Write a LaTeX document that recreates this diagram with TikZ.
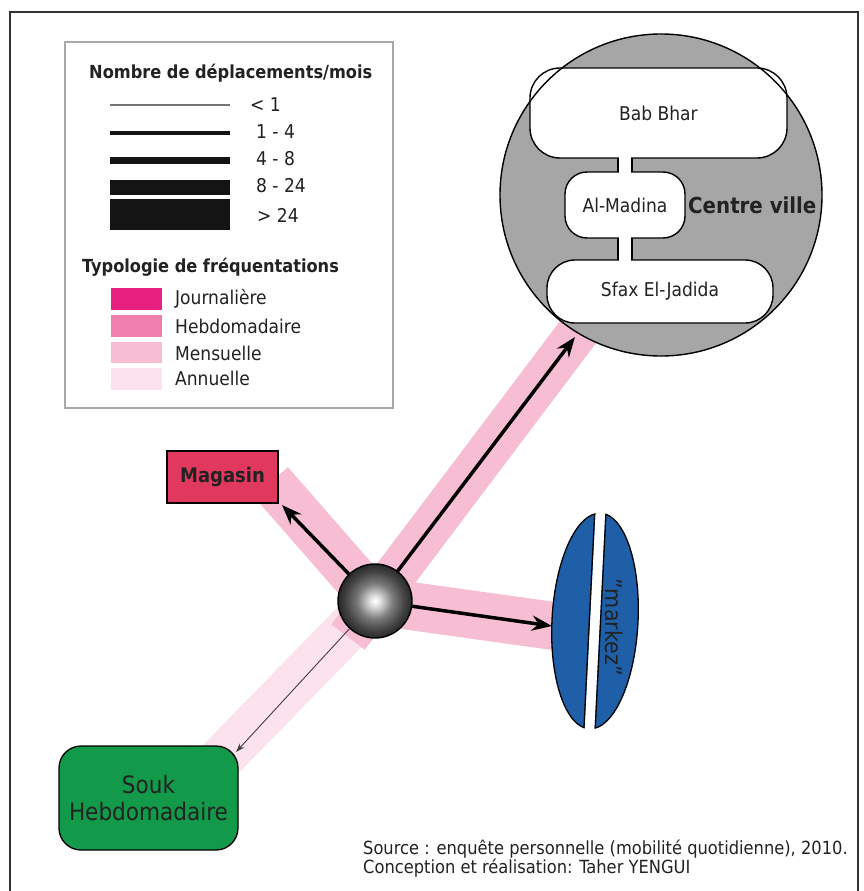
\documentclass[tikz,border=0pt]{standalone}
\usepackage{fontspec}
\setmainfont{DejaVu Sans Condensed}
\usetikzlibrary{arrows.meta}
\definecolor{jour}{HTML}{E8207F}
\definecolor{hebdo}{HTML}{EF80AE}
\definecolor{mens}{HTML}{F6BDD3}
\definecolor{ann}{HTML}{FCE2EC}
\definecolor{cgray}{HTML}{A6A6A6}
\definecolor{magcol}{HTML}{E0385E}
\definecolor{soukcol}{HTML}{13994A}
\definecolor{mkzcol}{HTML}{1F5FA8}
\definecolor{legbd}{HTML}{A8A8A8}
\definecolor{txt}{HTML}{222222}
\newcommand\myfs[2]{\fontsize{#1}{#2}\selectfont}
\pgfdeclareradialshading{sphshade}{\pgfpoint{0bp}{0bp}}{color(0bp)=(white); color(3bp)=(black!10); color(12bp)=(black!52); color(20bp)=(black!74); color(25bp)=(black!84); color(50bp)=(black!84)}
\tikzset{
  lbl/.style={anchor=west, inner sep=0pt, text=txt, font=\myfs{19}{22}},
  ltitle/.style={anchor=west, inner sep=0pt, text=txt, font=\bfseries\myfs{18}{22}},
  band/.style={line cap=butt, line width=45pt},
  arr/.style={line width=3.5pt, -{Stealth[length=20pt,width=15pt]}},
  thinarr/.style={line width=0.9pt, draw=black!75, -{Stealth[length=9pt,width=6pt]}},
  inbox/.style={draw, line width=1.4pt, fill=white, inner sep=0pt, text=txt, font=\myfs{19}{22}},
  srctext/.style={anchor=base west, inner sep=0pt, text=txt, font=\myfs{18.1}{19}},
}
\begin{document}
\begin{tikzpicture}[x=1pt,y=-1pt]
\useasboundingbox (0,0) rectangle (863,891);
\fill[white] (0,0) rectangle (863,891);
\draw[line width=1.5pt, black!80] (10,893) -- (10,12) -- (858,12) -- (858,893);

% legend
\draw[legbd, line width=1.5pt, fill=white] (65,42) rectangle (393,408);
\node[ltitle] (t1) at (89,73) {Nombre de déplacements/mois};
\draw[black!55, line width=1.2pt] (110,105) -- (230,105);
\draw[black!92, line width=3.5pt] (110,133) -- (230,133);
\draw[black!92, line width=7pt] (110,160) -- (230,160);
\fill[black!92] (110,180) rectangle (230,195);
\fill[black!92] (110,199) rectangle (230,230);
\node[lbl] (l1) at (250,105) {< 1};
\node[lbl] (l2) at (256,132) {1 - 4};
\node[lbl] (l3) at (256,159) {4 - 8};
\node[lbl] (l4) at (256,186) {8 - 24};
\node[lbl] (l5) at (257,215) {> 24};
\node[ltitle] (t2) at (82,267) {Typologie de fréquentations};
\fill[jour] (111,288) rectangle (162,310);
\fill[hebdo] (111,315) rectangle (162,337);
\fill[mens] (111,342) rectangle (162,363);
\fill[ann] (111,368) rectangle (162,390);
\node[lbl] (j1) at (175,299) {Journalière};
\node[lbl] (j2) at (175,326) {Hebdomadaire};
\node[lbl] (j3) at (175,353) {Mensuelle};
\node[lbl] (j4) at (175,378) {Annuelle};

% coordinates
\coordinate (s0) at (375,601);
\coordinate (cstart) at (348,637);
\coordinate (cband) at (600,303);
\coordinate (mband) at (271,482);
\coordinate (kband) at (575,629);
\coordinate (sband) at (215,765);
\coordinate (ctip) at (575,337);
\coordinate (mtip) at (282,505);
\coordinate (ktip) at (552,626);
\coordinate (stip) at (236,752);

% bands
\draw[band, ann] (s0) -- (sband);
\draw[band, mens, line width=42pt] (cstart) -- (cband);
\draw[band, mens] (s0) -- (mband);
\draw[band, mens, line width=48pt] (s0) -- (kband);

% centre ville
\node[circle, fill=cgray, minimum size=322pt, inner sep=0pt] (cv) at (661,195) {};
\node[inbox, rounded corners=30pt, minimum width=257pt, minimum height=90pt] (bab) at (658.5,113) {Bab Bhar};
\node[inbox, rounded corners=22pt, minimum width=120pt, minimum height=66pt] (mad) at (625,205) {Al-Madina};
\node[inbox, rounded corners=28pt, minimum width=226pt, minimum height=63pt] (sfx) at (660,291.5) {Sfax El-Jadida};
\fill[white] (618.8,155) rectangle (631.2,175);
\fill[white] (618.8,235) rectangle (631.2,263);
\draw[line width=1.4pt] (618,158) -- (618,172) (632,158) -- (632,172);
\draw[line width=1.4pt] (618,238) -- (618,260) (632,238) -- (632,260);
\node[circle, draw, line width=1.4pt, minimum size=322pt, inner sep=0pt] (cvline) at (661,195) {};
\node[anchor=west, inner sep=0pt, text=txt, font=\bfseries\myfs{22}{26}] (cvt) at (688,205) {Centre ville};

% Magasin
\node[draw, line width=1.2pt, fill=magcol, minimum width=111pt, minimum height=52pt, inner sep=0pt, text=txt, font=\bfseries\myfs{20}{24}] (mag) at (222.5,477) {Magasin};
% Souk
\node[draw, line width=1.3pt, fill=soukcol, rounded corners=22pt, minimum width=179pt, minimum height=104pt, inner sep=0pt, align=center, text=txt, font=\myfs{24}{27}] (souk) at (148.5,798) {Souk\\Hebdomadaire};

% markez
\begin{scope}
  \clip (540,500) -- (596,500) -- (584,740) -- (540,740) -- cycle;
  \fill[mkzcol, rotate around={-3:(595,621)}] (595,621) ellipse [x radius=43, y radius=108];
  \begin{scope}
    \clip[rotate around={-3:(595,621)}] (595,621) ellipse [x radius=43, y radius=108];
    \draw[line width=2.6pt] (596,500) -- (584,740);
  \end{scope}
  \draw[line width=1.3pt, rotate around={-3:(595,621)}] (595,621) ellipse [x radius=43, y radius=108];
\end{scope}
\begin{scope}
  \clip (606,500) -- (660,500) -- (660,740) -- (594,740) -- cycle;
  \fill[mkzcol, rotate around={-3:(595,621)}] (595,621) ellipse [x radius=43, y radius=108];
  \begin{scope}
    \clip[rotate around={-3:(595,621)}] (595,621) ellipse [x radius=43, y radius=108];
    \draw[line width=2.6pt] (606,500) -- (594,740);
  \end{scope}
  \draw[line width=1.3pt, rotate around={-3:(595,621)}] (595,621) ellipse [x radius=43, y radius=108];
\end{scope}
\node[rotate=-90, inner sep=0pt, text=txt, font=\myfs{23}{27}] (mkt) at (614,627) {"markez"};

% sphere
\node[circle, draw, line width=1.4pt, minimum size=74pt, inner sep=0pt, shading=sphshade] (sph) at (s0) {};

% arrows
\draw[arr] (sph) -- (ctip);
\draw[arr] (sph) -- (mtip);
\draw[arr] (sph) -- (ktip);
\draw[thinarr] (sph) -- (stip);

% source
\node[srctext] (src1) at (363,854) {Source : enquête personnelle (mobilité quotidienne), 2010.};
\node[srctext] (src2) at (363,873) {Conception et réalisation: Taher YENGUI};
\end{tikzpicture}
\end{document}
